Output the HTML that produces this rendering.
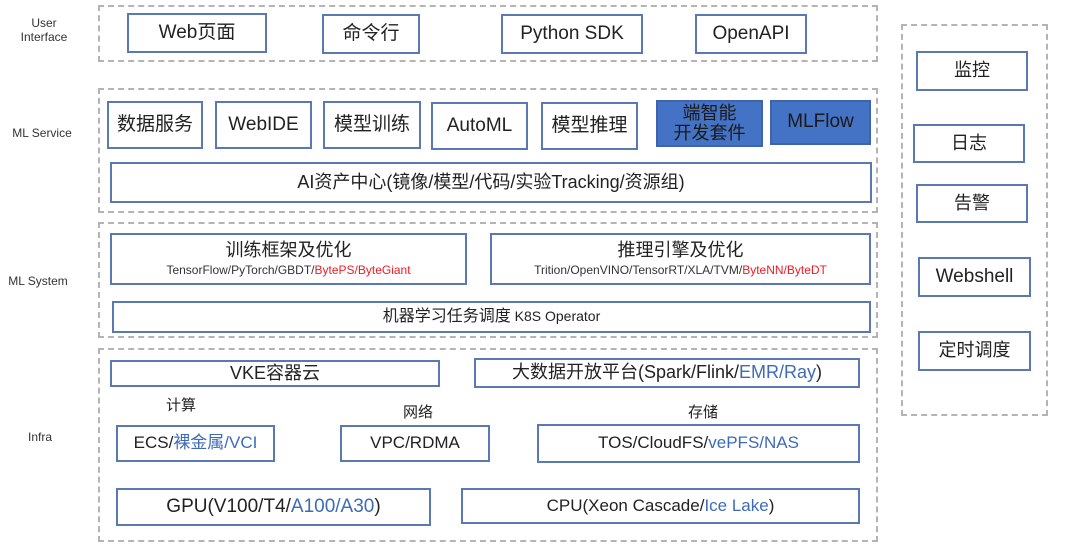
<!DOCTYPE html>
<html><head><meta charset="utf-8"><style>
*{margin:0;padding:0;box-sizing:border-box}
body{width:1080px;height:548px;background:#fff;position:relative;overflow:hidden;font-family:"Liberation Sans","Noto Sans CJK SC",sans-serif;color:#222}
.d{position:absolute;border:2px dashed #b4b4b4}
.b{position:absolute;border:2px solid #5a78b4;background:#fff;display:flex;align-items:center;justify-content:center;text-align:center;font-size:19px;line-height:1.1}
.f{background:#4472c4;border-color:#3d64ad;color:#1a1a1a}
.l{position:absolute;font-size:12px;color:#333;text-align:center;line-height:14px}
.t{position:absolute;font-size:15px;color:#222}
.bl{color:#3e6bb8}.r{color:#ee1c25}
.s{font-size:12px;color:#333}
</style></head><body>
<div class="d" style="left:98px;top:5px;width:780px;height:57px"></div>
<div class="d" style="left:98px;top:88px;width:780px;height:125px"></div>
<div class="d" style="left:98px;top:222px;width:780px;height:116px"></div>
<div class="d" style="left:98px;top:348px;width:780px;height:194px"></div>
<div class="d" style="left:901px;top:24px;width:147px;height:392px"></div>

<div class="l" style="left:14px;top:16px;width:60px">User<br>Interface</div>
<div class="l" style="left:0;top:126px;width:84px">ML Service</div>
<div class="l" style="left:0;top:274px;width:76px">ML System</div>
<div class="l" style="left:20px;top:430px;width:40px">Infra</div>

<div class="b" style="left:127px;top:13px;width:140px;height:40px">Web页面</div>
<div class="b" style="left:322px;top:14px;width:98px;height:40px">命令行</div>
<div class="b" style="left:501px;top:14px;width:142px;height:40px">Python SDK</div>
<div class="b" style="left:695px;top:14px;width:112px;height:40px">OpenAPI</div>

<div class="b" style="left:107px;top:101px;width:96px;height:48px">数据服务</div>
<div class="b" style="left:215px;top:101px;width:97px;height:48px">WebIDE</div>
<div class="b" style="left:323px;top:101px;width:98px;height:48px">模型训练</div>
<div class="b" style="left:431px;top:102px;width:97px;height:48px">AutoML</div>
<div class="b" style="left:541px;top:102px;width:97px;height:48px">模型推理</div>
<div class="b f" style="left:656px;top:100px;width:107px;height:47px;font-size:18px">端智能<br>开发套件</div>
<div class="b f" style="left:770px;top:100px;width:101px;height:45px">MLFlow</div>
<div class="b" style="left:110px;top:162px;width:762px;height:41px;font-size:18px">AI资产中心(镜像/模型/代码/实验Tracking/资源组)</div>

<div class="b" style="left:110px;top:233px;width:357px;height:52px;flex-direction:column;font-size:18px">训练框架及优化<span class="s" style="margin-top:3px">TensorFlow/PyTorch/GBDT/<span class="r">BytePS/ByteGiant</span></span></div>
<div class="b" style="left:490px;top:233px;width:381px;height:52px;flex-direction:column;font-size:18px">推理引擎及优化<span class="s" style="margin-top:3px">Trition/OpenVINO/TensorRT/XLA/TVM/<span class="r">ByteNN/ByteDT</span></span></div>
<div class="b" style="left:112px;top:301px;width:759px;height:32px;font-size:16px">机器学习任务调度 <span style="font-size:14px">&nbsp;K8S Operator</span></div>

<div class="b" style="left:110px;top:360px;width:330px;height:27px;font-size:18px">VKE容器云</div>
<div class="b" style="left:474px;top:358px;width:386px;height:30px;font-size:18px">大数据开放平台(Spark/Flink/<span class="bl">EMR/Ray</span>)</div>
<div class="t" style="left:166px;top:394px">计算</div>
<div class="t" style="left:403px;top:401px">网络</div>
<div class="t" style="left:688px;top:401px">存储</div>
<div class="b" style="left:116px;top:425px;width:159px;height:37px;font-size:17px">ECS/<span class="bl">裸金属/VCI</span></div>
<div class="b" style="left:340px;top:425px;width:150px;height:37px;font-size:17px">VPC/RDMA</div>
<div class="b" style="left:537px;top:424px;width:323px;height:39px;font-size:17px">TOS/CloudFS/<span class="bl">vePFS/NAS</span></div>
<div class="b" style="left:116px;top:488px;width:315px;height:38px;font-size:19px">GPU(V100/T4/<span class="bl">A100/A30</span>)</div>
<div class="b" style="left:461px;top:488px;width:399px;height:36px;font-size:17px">CPU(Xeon Cascade/<span class="bl">Ice Lake</span>)</div>

<div class="b" style="left:916px;top:51px;width:112px;height:40px;font-size:18px">监控</div>
<div class="b" style="left:913px;top:124px;width:112px;height:39px;font-size:18px">日志</div>
<div class="b" style="left:916px;top:184px;width:112px;height:39px;font-size:18px">告警</div>
<div class="b" style="left:918px;top:257px;width:113px;height:40px;font-size:19px">Webshell</div>
<div class="b" style="left:918px;top:331px;width:113px;height:40px;font-size:18px">定时调度</div>
</body></html>
